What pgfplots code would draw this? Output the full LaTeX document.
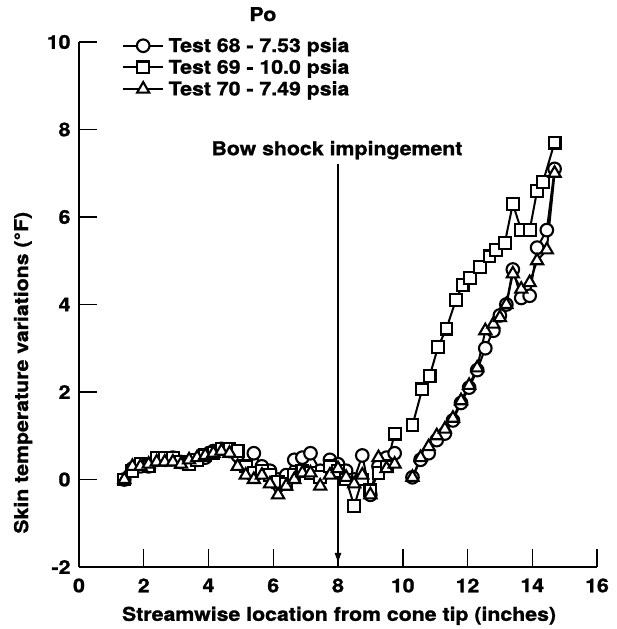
\documentclass[border=0pt]{standalone}
\usepackage{fontspec}
\setmainfont{TeX Gyre Heros}[FakeStretch=1.12, FakeBold=1.2]
\usepackage{pgfplots}
\pgfplotsset{compat=1.18}
\usetikzlibrary{arrows.meta}
\newcommand\f{\fontsize{19pt}{22pt}\selectfont\bfseries}

\pgfplotstableread{
x y
1.4 0.0
1.65 0.25
1.9 0.3
2.15 0.3
2.4 0.45
2.65 0.45
2.9 0.5
3.15 0.4
3.4 0.4
3.65 0.45
3.9 0.5
4.15 0.65
4.4 0.7
4.65 0.65
4.9 0.55
5.15 0.3
5.4 0.6
5.65 0.3
5.9 0.2
6.15 0.0
6.4 0.1
6.65 0.45
6.9 0.5
7.15 0.6
7.45 0.2
7.75 0.45
8.0 0.35
8.25 0.2
8.5 0.0
8.75 0.55
9.0 -0.35
9.25 0.3
9.5 0.5
9.75 0.6
10.0 nan
10.3 0.05
10.55 0.45
10.8 0.6
11.05 0.9
11.3 1.05
11.55 1.35
11.8 1.75
12.05 2.1
12.3 2.5
12.55 3.0
12.8 3.4
13.0 3.75
13.2 4.0
13.4 4.8
13.66 4.15
13.92 4.2
14.15 5.3
14.45 5.7
14.69 7.1
}\testA

\pgfplotstableread{
x y
1.4 0.0
1.65 0.2
1.9 0.35
2.15 0.3
2.4 0.5
2.65 0.5
2.9 0.5
3.15 0.4
3.4 0.35
3.65 0.45
3.9 0.55
4.15 0.6
4.4 0.7
4.65 0.7
4.9 0.65
5.15 0.3
5.4 0.15
5.65 0.2
5.9 0.1
6.15 -0.05
6.4 -0.1
6.65 0.1
6.9 0.2
7.15 0.15
7.45 0.05
7.75 0.3
8.0 0.2
8.25 0.0
8.5 -0.6
8.75 0.0
9.0 -0.25
9.25 0.15
9.5 0.3
9.75 1.05
10.0 nan
10.3 1.24
10.6 2.06
10.83 2.36
11.09 3.03
11.35 3.45
11.64 4.1
11.85 4.45
12.07 4.6
12.38 4.85
12.68 5.1
12.89 5.25
13.15 5.4
13.4 6.3
13.66 5.7
13.92 5.7
14.15 6.6
14.33 6.8
14.69 7.7
}\testB

\pgfplotstableread{
x y
1.4 0.0
1.65 0.3
1.9 0.3
2.15 0.35
2.4 0.4
2.65 0.4
2.9 0.4
3.15 0.35
3.4 0.45
3.65 0.5
3.9 0.55
4.15 0.6
4.4 0.65
4.65 0.6
4.9 0.3
5.15 0.1
5.4 0.0
5.65 0.1
5.9 -0.1
6.15 -0.35
6.4 -0.15
6.65 0.0
6.9 0.15
7.15 0.15
7.45 -0.15
7.75 0.1
8.0 0.25
8.25 0.05
8.5 -0.1
8.75 0.1
9.0 -0.35
9.25 0.5
9.5 0.25
9.75 0.35
10.0 nan
10.3 0.05
10.55 0.5
10.8 0.75
11.05 1.0
11.3 1.15
11.55 1.4
11.8 1.8
12.05 2.15
12.3 2.55
12.55 3.4
12.8 3.55
13.0 3.7
13.2 4.0
13.4 4.7
13.66 4.35
13.92 4.5
14.15 5.0
14.45 5.25
14.69 7.0
}\testC

\begin{document}
\begin{tikzpicture}
\begin{axis}[
  scale only axis, width=518pt, height=525pt,
  xmin=0, xmax=16, ymin=-2, ymax=10,
  axis x line=bottom, axis y line=left,
  axis line style={-, line width=2.5pt},
  xtick={0,2,...,16}, ytick={-2,0,...,10},
  tick align=inside, major tick length=18pt,
  every tick/.style={black, line width=1.5pt},
  ticklabel style={font=\f},
  /pgf/number format/assume math mode=true,
  xticklabel shift=8pt, yticklabel shift=5pt,
  xlabel={Streamwise location from cone tip (inches)},
  ylabel={Skin temperature variations (\textdegree F)},
  label style={font=\f},
  xlabel style={at={(axis description cs:0.502,-0.093)}, anchor=center},
  ylabel style={at={(axis description cs:-0.108,0.37)}, anchor=center},
  clip=false,
  unbounded coords=jump,
  legend style={draw=none, fill=none, font=\f, at={(axis description cs:0.083,1.011)},
    anchor=north west, inner sep=0pt, row sep=3pt, nodes={inner sep=1.5pt},
    column sep=3pt},
  legend cell align=left,
  legend image code/.code={\draw[mark repeat=2, mark phase=2, #1] plot coordinates {(0pt,0pt) (20pt,0pt) (40pt,0pt)};},
]
\addplot[black, line width=2pt, mark=*, mark size=6.3pt, mark options={fill=white, draw=black, solid, line width=2.1pt}] table[x=x,y=y] {\testA};
\addlegendentry{Test 68 - 7.53 psia}
\addplot[black, line width=2pt, mark=square*, mark size=5.9pt, mark options={fill=white, draw=black, solid, line width=2.1pt}] table[x=x,y=y] {\testB};
\addlegendentry{Test 69 - 10.0 psia}
\addplot[black, line width=2pt, mark=triangle*, mark size=7pt, mark options={fill=white, draw=black, solid, line width=2.1pt}] table[x=x,y=y] {\testC};
\addlegendentry{Test 70 - 7.49 psia}
\node[font=\f] at (axis description cs:0.355,1.053) {Po};
\node[font=\f] at (axis description cs:0.498,0.794) {Bow shock impingement};
\draw[-{Latex[length=11pt,width=7pt]}, line width=1.3pt] (axis cs:8,7.2) -- (axis cs:8,-1.93);
\end{axis}
\pgfresetboundingbox
\path[use as bounding box] (-79pt,-62pt) rectangle (538pt,567pt);
\end{tikzpicture}
\end{document}
